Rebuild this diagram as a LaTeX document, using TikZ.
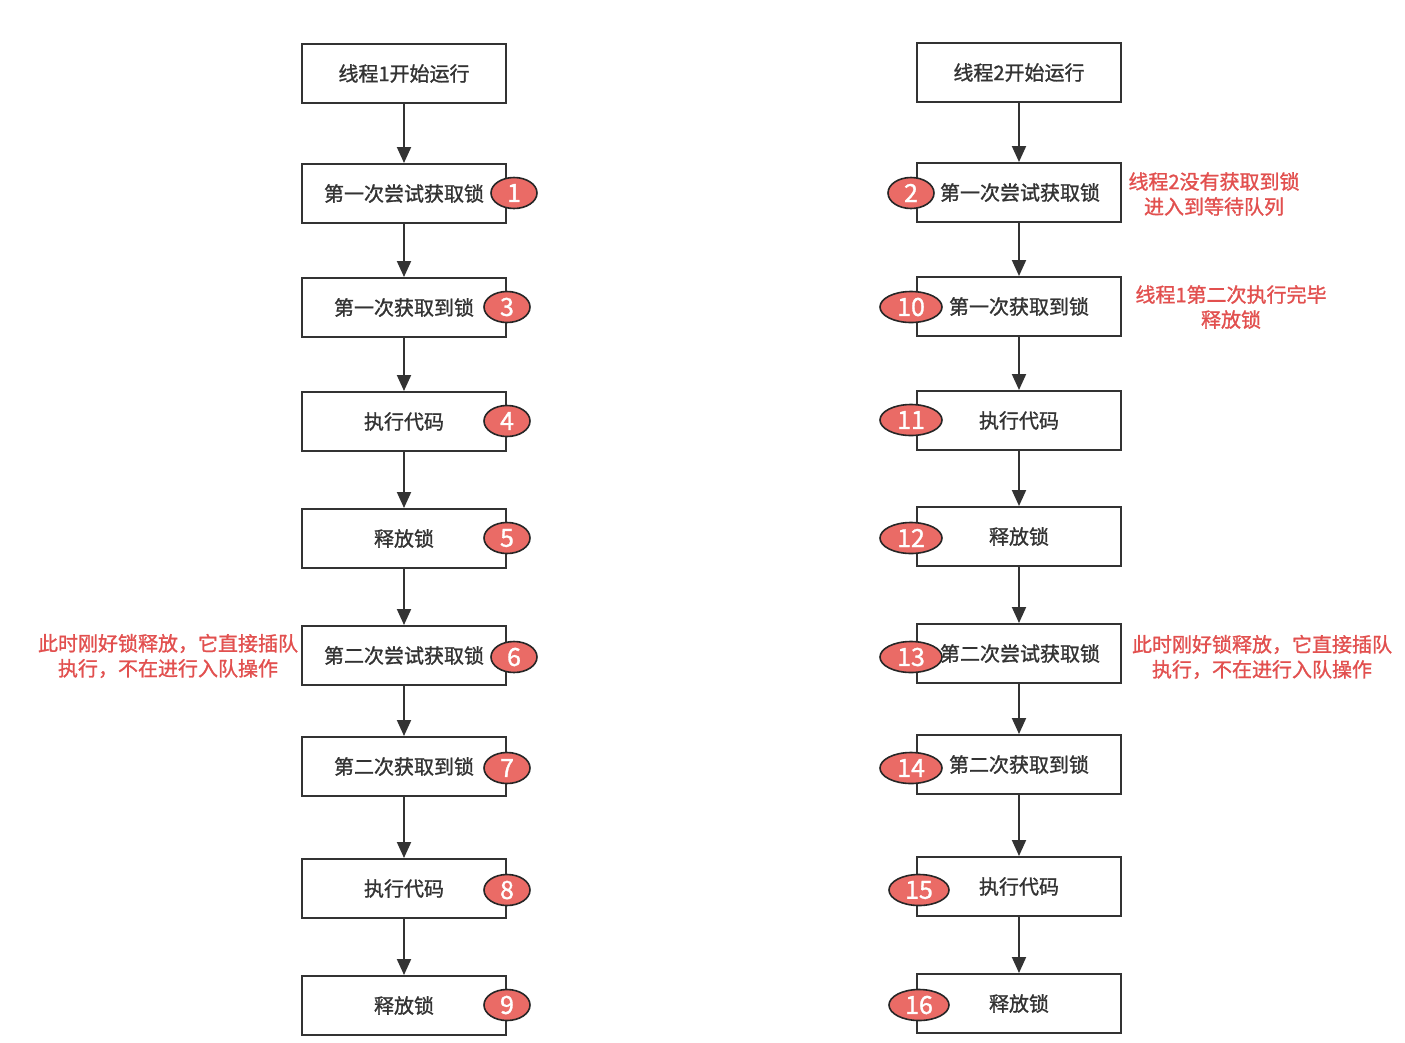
\documentclass[tikz,border=0pt]{standalone}
\usepackage{fontspec}
\setmainfont{Noto Sans CJK SC}[FakeBold=1.2]
\usetikzlibrary{arrows.meta,shapes.geometric}
\definecolor{bfill}{HTML}{EA6B66}
\definecolor{rtext}{HTML}{E2504F}
\definecolor{lcol}{HTML}{333333}
\begin{document}
\begin{tikzpicture}[x=1pt,y=-1pt,
 box/.style={draw=lcol, line width=2pt, minimum width=204pt, minimum height=59pt, inner sep=0pt, font=\fontsize{20}{24}\selectfont, text=lcol},
 badge/.style={ellipse, draw=black!85, line width=1.6pt, fill=bfill, minimum height=31pt, text=white, inner sep=0pt, font=\fontsize{25}{28}\selectfont},
 arr/.style={-{Triangle[length=16pt,width=14pt]}, draw=lcol, line width=2pt},
 note/.style={text=rtext, align=center, font=\fontsize{20}{25}\selectfont}]
\useasboundingbox (0,0) rectangle (1405,1042);
\fill[white] (0,0) rectangle (1405,1042);
% left column
\node[box] (a0) at (404,73.5) {线程1开始运行};
\node[box] (a1) at (404,193.5) {第一次尝试获取锁};
\node[box] (a2) at (404,307.5) {第一次获取到锁};
\node[box] (a3) at (404,421.5) {执行代码};
\node[box] (a4) at (404,538.5) {释放锁};
\node[box] (a5) at (404,655.5) {第二次尝试获取锁};
\node[box] (a6) at (404,766.5) {第二次获取到锁};
\node[box] (a7) at (404,888.5) {执行代码};
\node[box] (a8) at (404,1005.5) {释放锁};
% right column
\node[box] (b0) at (1019,72.5) {线程2开始运行};
\node[box] (b1) at (1019,192.5) {\hspace*{2pt}第一次尝试获取锁};
\node[box] (b2) at (1019,306.5) {第一次获取到锁};
\node[box] (b3) at (1019,420.5) {执行代码};
\node[box] (b4) at (1019,536.5) {释放锁};
\node[box] (b5) at (1019,653.5) {\hspace*{2pt}第二次尝试获取锁};
\node[box] (b6) at (1019,764.5) {第二次获取到锁};
\node[box] (b7) at (1019,886.5) {执行代码};
\node[box] (b8) at (1019,1003.5) {释放锁};
% arrows
\foreach \i/\j in {0/1,1/2,2/3,3/4,4/5,5/6,6/7,7/8}{
  \draw[arr] (a\i) -- (a\j);
  \draw[arr] (b\i) -- (b\j);
}
% badges left
\node[badge, minimum width=46pt] (n1) at (514,193) {1};
\node[badge, minimum width=46pt] (n3) at (507,307) {3};
\node[badge, minimum width=46pt] (n4) at (507,421) {4};
\node[badge, minimum width=46pt] (n5) at (507,538) {5};
\node[badge, minimum width=46pt] (n6) at (514,657) {6};
\node[badge, minimum width=46pt] (n7) at (507,768) {7};
\node[badge, minimum width=46pt] (n8) at (507,890) {8};
\node[badge, minimum width=46pt] (n9) at (507,1005) {9};
% badges right
\node[badge, minimum width=46pt] (n2) at (911,193) {2};
\node[badge, minimum width=62pt] (n10) at (911,307) {10};
\node[badge, minimum width=62pt] (n11) at (911,420) {11};
\node[badge, minimum width=62pt] (n12) at (911,538) {12};
\node[badge, minimum width=62pt] (n13) at (911,657) {13};
\node[badge, minimum width=62pt] (n14) at (911,768) {14};
\node[badge, minimum width=60pt] (n15) at (919,890) {15};
\node[badge, minimum width=60pt] (n16) at (919,1005) {16};
% notes
\node[note] (t1) at (1214,194) {线程2没有获取到锁\\进入到等待队列};
\node[note] (t2) at (1231,307) {线程1第二次执行完毕\\释放锁};
\node[note] (t3) at (168,656) {此时刚好锁释放，它直接插队\\执行，不在进行入队操作};
\node[note] (t4) at (1262,657) {此时刚好锁释放，它直接插队\\执行，不在进行入队操作};
\end{tikzpicture}
\end{document}
